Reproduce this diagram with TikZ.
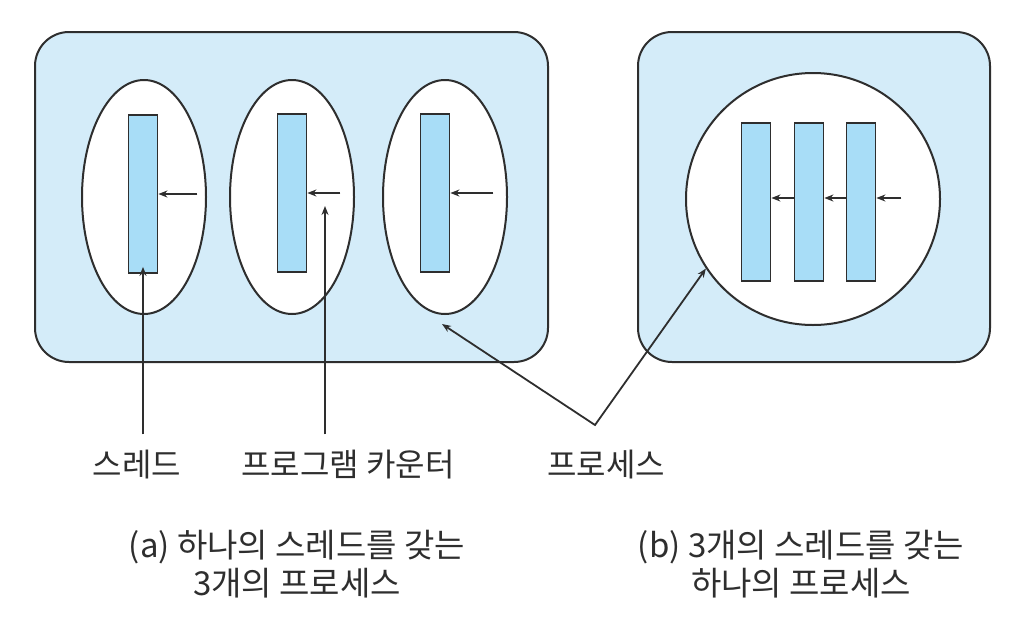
\documentclass[tikz,border=0pt]{standalone}
\usepackage{fontspec}
\setmainfont{Noto Sans CJK KR}
\usetikzlibrary{arrows.meta, positioning, shapes.geometric}

\definecolor{boxblue}{HTML}{D4ECF9}
\definecolor{thrblue}{HTML}{A8DDF7}
\definecolor{inkgray}{HTML}{2E2E2E}

\begin{document}
\begin{tikzpicture}[
  x=1pt, y=-1pt,
  procbox/.style={rectangle, draw=inkgray, line width=2pt, rounded corners=34pt,
                  fill=boxblue, minimum width=#1, minimum height=330pt, inner sep=0pt},
  procell/.style={ellipse, draw=inkgray, line width=2pt, fill=white,
                  minimum width=124pt, minimum height=234pt, inner sep=0pt},
  thread/.style={rectangle, draw=inkgray, line width=1.8pt, fill=thrblue,
                 minimum width=29pt, minimum height=158pt, inner sep=0pt},
  label/.style={font=\fontsize{32}{38}\selectfont, text=inkgray, inner sep=2pt},
  caption/.style={font=\fontsize{33}{38}\selectfont, text=inkgray, align=center, inner sep=2pt},
  arrow/.style={-{Stealth[length=9pt, width=7pt]}, line width=1.8pt, draw=inkgray},
]
  \useasboundingbox (0,0) rectangle (1020,632);

  % (a) three single-threaded processes
  \node[procbox=513pt] (pa) at (291.5,197) {};
  \node[procell] (e1) at (144,197) {};
  \node[procell] (e2) at (292,197) {};
  \node[procell] (e3) at (445,197) {};
  \node[thread] (t1) at (143,194) {};
  \node[thread] (t2) at (292,193) {};
  \node[thread] (t3) at (435,193) {};
  \draw[arrow] ([xshift=39pt]t1.east) -- (t1.east);
  \draw[arrow] ([xshift=33pt]t2.east) -- (t2.east);
  \draw[arrow] ([xshift=43pt]t3.east) -- (t3.east);

  % (b) one process with three threads
  \node[procbox=352pt] (pb) at (814,197) {};
  \node[procell, minimum width=254pt, minimum height=252pt] (pc) at (813,199) {};
  \node[thread] (r1) at (756,202) {};
  \node[thread] (r2) at (809,202) {};
  \node[thread] (r3) at (861,202) {};
  \draw[arrow] (r2.west |- 0,198) -- (r1.east |- 0,198);
  \draw[arrow] (r3.west |- 0,198) -- (r2.east |- 0,198);
  \draw[arrow] ([xshift=25pt]r3.east |- 0,198) -- (r3.east |- 0,198);

  % labels
  \node[label] (lthread) at (137,465) {스레드};
  \node[label] (lpc) at (348,465) {프로그램 카운터};
  \node[label] (lproc) at (606,465) {프로세스};
  \coordinate (pcpt) at (325,206);
  \coordinate (pjoin) at (595,425);

  \draw[arrow] (lthread.north -| t1) ++(0,-14) -- ([yshift=7pt]t1.south);
  \draw[arrow] (lpc.north -| pcpt) ++(0,-14) -- (pcpt);
  \draw[{Stealth[length=9pt, width=7pt]}-{Stealth[length=9pt, width=7pt]}, line width=1.8pt, draw=inkgray]
    ([shift={(-3pt,-9pt)}]e3.south) -- (pjoin) -- (pc.213);

  % captions
  \node[caption] (capa) at (297,564) {(a) 하나의 스레드를 갖는\\3개의 프로세스};
  \node[caption] (capb) at (801,564) {(b) 3개의 스레드를 갖는\\하나의 프로세스};
\end{tikzpicture}
\end{document}
